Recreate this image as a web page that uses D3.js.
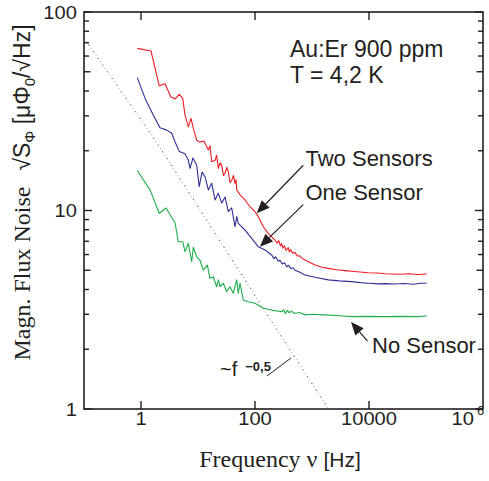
<!DOCTYPE html>
<html>
<head>
<meta charset="utf-8">
<script src="https://cdn.jsdelivr.net/npm/d3@7"></script>
<style>
  body { margin: 0; background: #fff; }
  svg { display: block; }
</style>
</head>
<body>
<svg id="chart" width="489" height="481"></svg>
<script>
const SANS = '"Liberation Sans", Arial, Helvetica, sans-serif';
const SERIF = '"Liberation Serif", "Times New Roman", serif';
const INK = '#231f20';

const COLOR_TWO = '#ec1c24';
const COLOR_ONE = '#2e3192';
const COLOR_NONE = '#1fae4b';

// axis ticks
const xTicks = [1, 100, 10000];
const xTickLabels = ['1', '100', '10000'];
const yTicks = [1, 10, 100];
const yTickLabels = ['1', '10', '100'];
const yMinor = [2, 3, 4, 6, 7, 8, 9, 20, 30, 40, 60, 70, 80, 90];
const yMid = [5, 50];

// [frequency Hz, noise µPhi0/sqrt(Hz)]
const twoSensors = [
  [0.86, 65.6], [1.50, 63.6], [2.09, 42.5], [2.64, 43.5], [3.32, 37.4], [3.95, 36.5],
  [4.70, 38.5], [5.39, 36.7], [5.91, 30.3], [6.76, 26.4], [7.54, 29.1], [8.27, 25.9],
  [9.49, 22.6], [10.8, 22.1], [12.7, 22.4], [14.2, 21.0], [15.2, 20.2], [16.3, 21.2],
  [17.4, 17.6], [19.9, 17.9], [21.2, 19.0], [22.7, 16.3], [24.5, 17.4], [26.1, 16.9],
  [28.0, 15.0], [29.8, 15.4], [32.0, 16.5], [34.0, 15.7], [36.5, 13.8], [39.0, 14.2],
  [42.0, 15.0], [44.6, 13.7], [46.5, 14.3], [47.8, 12.7], [54.6, 12.0], [66.8, 11.3],
  [81.7, 10.45], [100, 9.86], [114, 9.31], [140, 8.28], [171, 7.67], [224, 7.10],
  [245, 6.85], [262, 7.05], [280, 6.62], [294, 6.80], [310, 6.45], [330, 6.65],
  [350, 6.30], [384, 6.50], [400, 6.18], [420, 6.35], [460, 6.10], [503, 6.15],
  [550, 5.90], [600, 5.92], [680, 5.72], [754, 5.63], [1130, 5.31], [1500, 5.18],
  [1930, 5.11], [2700, 5.03], [3790, 4.98], [5500, 4.93], [7000, 4.90], [9720, 4.86],
  [14000, 4.84], [19000, 4.80], [25000, 4.79], [35000, 4.77], [50000, 4.80], [70000, 4.76],
  [103000, 4.79]
];
const oneSensor = [
  [0.86, 46.7], [1.18, 36.7], [1.64, 30.3], [2.15, 26.1], [2.82, 25.4], [3.46, 24.5],
  [3.95, 22.2], [4.70, 19.8], [5.91, 19.3], [6.76, 17.9], [7.24, 16.3], [8.17, 18.4],
  [9.49, 16.9], [10.5, 13.2], [11.8, 15.6], [13.3, 14.8], [15.2, 12.7], [17.4, 13.7],
  [19.9, 11.3], [22.7, 12.2], [26.1, 10.9], [29.8, 11.7], [34.0, 9.86], [39.0, 10.3],
  [44.6, 8.28], [47.8, 9.31], [50.9, 8.62], [66.8, 7.97], [87.5, 7.24], [114, 6.57],
  [150, 6.32], [196, 5.97], [215, 5.72], [230, 5.85], [256, 5.55], [275, 5.62],
  [300, 5.38], [330, 5.45], [360, 5.21], [390, 5.30], [420, 5.10], [460, 5.15],
  [503, 5.00], [600, 4.90], [754, 4.73], [1130, 4.61], [1930, 4.47], [3000, 4.42],
  [4970, 4.38], [7000, 4.33], [9720, 4.30], [15000, 4.27], [20000, 4.28], [28600, 4.26],
  [40000, 4.29], [60000, 4.25], [80000, 4.30], [103000, 4.30]
];
const noSensor = [
  [0.86, 15.9], [1.44, 12.7], [2.09, 9.68], [2.75, 10.3], [3.95, 8.68], [4.51, 6.96],
  [5.39, 6.96], [5.91, 6.20], [6.76, 6.83], [7.75, 5.52], [8.27, 6.53], [9.49, 5.85],
  [10.8, 5.63], [12.4, 5.01], [14.6, 5.31], [16.2, 4.55], [18.5, 4.64], [21.3, 4.13],
  [22.8, 4.47], [24.3, 4.13], [27.8, 4.30], [31.9, 3.90], [36.4, 4.13], [41.6, 3.83],
  [47.8, 4.47], [50.9, 3.83], [54.6, 4.30], [62.3, 3.54], [76.3, 3.47], [100, 3.41],
  [140, 3.22], [196, 3.15], [294, 3.09], [320, 3.16], [340, 3.02], [370, 3.14],
  [400, 3.05], [430, 3.11], [503, 3.03], [600, 3.06], [754, 2.98], [1000, 3.00],
  [1690, 2.98], [3000, 2.95], [4970, 2.92], [8000, 2.93], [19100, 2.92], [40000, 2.93],
  [70000, 2.92], [103000, 2.94]
];
const slopeLine = [[0.1, 74], [1.91, 21.9], [224, 2.6], [1950, 1.0]];

// annotation arrows in data units
const arrows = [
  {from: [703, 16.9], to: [107, 9.68]},
  {from: [703, 10.7], to: [122, 6.57]},
  {from: [9410, 2.20], to: [4830, 2.74]}
];
const slopeLeader = [[162, 1.466], [428, 1.807]];

const margin = {left: 84, top: 12, right: 483, bottom: 409};

const svg = d3.select('#chart');
const x = d3.scaleLog().domain([0.1, 1e6]).range([margin.left, margin.right]);
const y = d3.scaleLog().domain([1, 100]).range([margin.bottom, margin.top]);

svg.append('defs').append('clipPath').attr('id', 'plot')
  .append('rect')
  .attr('x', margin.left).attr('y', margin.top)
  .attr('width', margin.right - margin.left).attr('height', margin.bottom - margin.top);

const plot = svg.append('g').attr('clip-path', 'url(#plot)');
const line = d3.line().x(d => x(d[0])).y(d => y(d[1]));

plot.append('path')
  .attr('d', line(slopeLine))
  .attr('fill', 'none')
  .attr('stroke', '#555')
  .attr('stroke-width', 1)
  .attr('stroke-dasharray', '1.5,3,0.6,3');

[[noSensor, COLOR_NONE], [oneSensor, COLOR_ONE], [twoSensors, COLOR_TWO]].forEach(([data, color]) => {
  plot.append('path')
    .attr('d', line(data))
    .attr('fill', 'none')
    .attr('stroke', color)
    .attr('stroke-width', 1.1)
    .attr('stroke-linejoin', 'round');
});

// frame + ticks
const axes = svg.append('g').attr('stroke', INK).attr('stroke-width', 1.4);
axes.append('rect')
  .attr('x', margin.left).attr('y', margin.top)
  .attr('width', margin.right - margin.left).attr('height', margin.bottom - margin.top)
  .attr('fill', 'none').attr('stroke-width', 1.6);

xTicks.forEach(t => {
  axes.append('line').attr('x1', x(t)).attr('x2', x(t)).attr('y1', margin.bottom).attr('y2', margin.bottom - 8);
  axes.append('line').attr('x1', x(t)).attr('x2', x(t)).attr('y1', margin.top).attr('y2', margin.top + 8);
});

const yTickSet = [
  ...yTicks.map(v => ({v, len: 8})),
  ...yMid.map(v => ({v, len: 6.5})),
  ...yMinor.map(v => ({v, len: 5}))
];
yTickSet.forEach(({v, len}) => {
  axes.append('line').attr('x1', margin.left).attr('x2', margin.left + len).attr('y1', y(v)).attr('y2', y(v));
  axes.append('line').attr('x1', margin.right).attr('x2', margin.right - len).attr('y1', y(v)).attr('y2', y(v));
});

// tick labels
const tickFont = text => text.style('font-family', SANS).style('font-size', '18px').attr('fill', INK);

yTicks.forEach((t, i) => {
  svg.append('text')
    .attr('transform', `translate(77,${y(t) + 6.5}) scale(1.12,1)`)
    .attr('text-anchor', 'end')
    .call(tickFont)
    .text(yTickLabels[i]);
});
xTicks.forEach((t, i) => {
  svg.append('text')
    .attr('transform', `translate(${x(t)},424.5) scale(1.12,1)`)
    .attr('text-anchor', 'middle')
    .call(tickFont)
    .text(xTickLabels[i]);
});
svg.append('text')
  .attr('transform', 'translate(474,424.5) scale(1.12,1)')
  .attr('text-anchor', 'end')
  .call(tickFont)
  .text('10');
svg.append('text')
  .attr('x', 477).attr('y', 415)
  .style('font-family', SANS).style('font-size', '13px').attr('fill', INK)
  .text('6');

// axis titles
const xLabel = svg.append('text')
  .attr('x', 280).attr('y', 467)
  .attr('text-anchor', 'middle')
  .attr('fill', INK);
xLabel.append('tspan').style('font-family', SERIF).style('font-size', '24px').text('Frequency ν ');
xLabel.append('tspan').style('font-family', SANS).style('font-size', '21px').text('[Hz]');

const yLabel = svg.append('text')
  .attr('transform', 'translate(29.5,192.5) rotate(-90)')
  .attr('text-anchor', 'middle')
  .attr('fill', INK);
const sans = (s, size) => s.style('font-family', SANS).style('font-size', size + 'px');
yLabel.append('tspan').style('font-family', SERIF).style('font-size', '24px').text('Magn. Flux Noise');
yLabel.append('tspan').attr('dx', 16).call(sans, 23).text('√S');
yLabel.append('tspan').attr('dy', 5).call(sans, 15).text('Φ');
yLabel.append('tspan').attr('dy', -5).call(sans, 23).text(' [μΦ');
yLabel.append('tspan').attr('dy', 5).call(sans, 15).text('0');
yLabel.append('tspan').attr('dy', -5).call(sans, 23).text('/√Hz]');

// annotations
const note = (tx, ty, str, size) => svg.append('text')
  .attr('x', tx).attr('y', ty)
  .call(sans, size)
  .attr('fill', INK)
  .text(str);

note(290, 56.7, 'Au:Er 900 ppm', 23);
note(290, 83.3, 'T = 4,2 K', 23);
note(305.5, 166, 'Two Sensors', 22);
note(305.5, 200, 'One Sensor', 22);
note(372, 353.3, 'No Sensor', 22);

const slopeText = svg.append('text').attr('x', 220).attr('y', 376).attr('fill', INK);
slopeText.append('tspan').call(sans, 20).text('~f');
slopeText.append('tspan').attr('dx', 8).attr('dy', -5).call(sans, 13).style('font-weight', 'bold').text('−0,5');

svg.append('path')
  .attr('d', line(slopeLeader))
  .attr('stroke', INK).attr('stroke-width', 1).attr('fill', 'none');

arrows.forEach(a => {
  const x0 = x(a.from[0]), y0 = y(a.from[1]);
  const x1 = x(a.to[0]), y1 = y(a.to[1]);
  const ang = Math.atan2(y1 - y0, x1 - x0);
  const headLen = 13, headW = 5.5;
  const bx = x1 - headLen * Math.cos(ang), by = y1 - headLen * Math.sin(ang);
  svg.append('line')
    .attr('x1', x0).attr('y1', y0).attr('x2', bx).attr('y2', by)
    .attr('stroke', INK).attr('stroke-width', 1.2);
  const px = -Math.sin(ang) * headW, py = Math.cos(ang) * headW;
  svg.append('path')
    .attr('d', `M${x1},${y1}L${bx + px},${by + py}L${bx - px},${by - py}Z`)
    .attr('fill', INK);
});
</script>
</body>
</html>
